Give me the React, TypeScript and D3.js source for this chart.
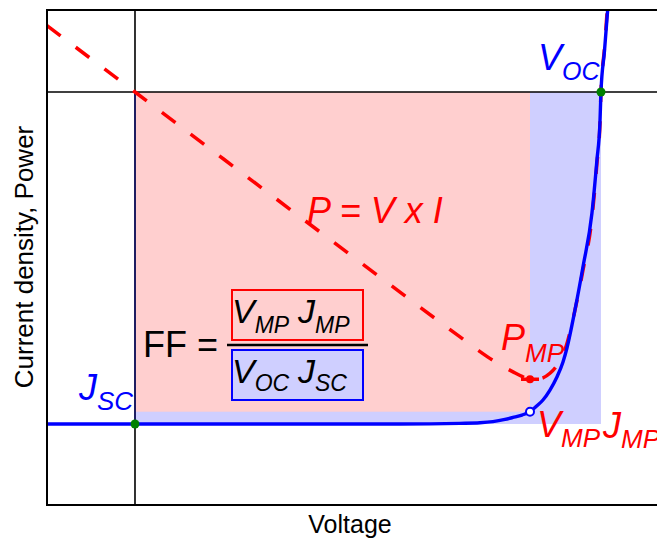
import React from 'react';
import * as d3 from 'd3';

// Solar cell J-V characteristic (voltage in V, current density in mA/cm²)
const voltage = [-0.1133, 0, 0.3412, 0.4185, 0.4442, 0.4609, 0.4764, 0.4867, 0.4983, 0.5086, 0.5176, 0.5253, 0.5343, 0.5433, 0.5511, 0.5562, 0.5665, 0.5768, 0.5884, 0.5948, 0.5987, 0.6, 0.6045, 0.6086];
const currentDensity = [30, 30, 30, 29.94, 29.89, 29.79, 29.59, 29.41, 29.19, 28.89, 28.35, 27.83, 26.93, 25.75, 24.39, 23.13, 19.7, 15.81, 10.93, 6.14, 2.71, 0, -3.7, -7.41];
// Output power density P = V x J (mW/cm²)
const power = [-3.399, 0, 10.236, 12.53, 13.277, 13.73, 14.097, 14.314, 14.545, 14.693, 14.674, 14.619, 14.389, 13.99, 13.441, 12.865, 11.16, 9.119, 6.431, 3.652, 1.622, 0, -2.237, -4.51];

const V_OC = 0.6;
const J_SC = 30;
const V_MP = 0.5086;
const J_MP = 28.89;
const P_MP = 14.693;

const W = 657;
const H = 542;
const FONT = "'Liberation Sans', Arial, Helvetica, sans-serif";

const plot = { left: 47, top: 10, right: 660, bottom: 505 };

const xScale = d3.scaleLinear().domain([-0.1133, 0.676]).range([plot.left, plot.right]);
const jScale = d3.scaleLinear().domain([-7.41, 37.32]).range([plot.top, plot.bottom]);
const pScale = d3.scaleLinear().domain([-4.194, 21.125]).range([plot.top, plot.bottom]);

const jvPoints: [number, number][] = voltage.map((v, i) => [v, currentDensity[i]]);
const pvPoints: [number, number][] = voltage.map((v, i) => [v, power[i]]);

const jvLine = d3
  .line<[number, number]>()
  .x((d) => xScale(d[0]))
  .y((d) => jScale(d[1]))
  .curve(d3.curveMonotoneX);

const pvLine = d3
  .line<[number, number]>()
  .x((d) => xScale(d[0]))
  .y((d) => pScale(d[1]))
  .curve(d3.curveMonotoneX);

type SubProps = {
  x: number;
  y: number;
  base: string;
  sub: string;
  size: number;
  subSize: number;
  drop: number;
  fill: string;
};

function SubLabel({ x, y, base, sub, size, subSize, drop, fill }: SubProps) {
  return (
    <text x={x} y={y} fontSize={size} fontStyle="italic" fill={fill} fontFamily={FONT}>
      {base}
      <tspan dy={drop} fontSize={subSize}>
        {sub}
      </tspan>
    </text>
  );
}

export default function App() {
  const x0 = xScale(0);
  const y0 = jScale(0);
  const xOc = xScale(V_OC);
  const ySc = jScale(J_SC);
  const xMp = xScale(V_MP);
  const yMp = jScale(J_MP);
  const yPmp = pScale(P_MP);

  const RED = '#ff0000';
  const BLUE = '#0000ff';

  return (
    <svg
      width={W}
      height={H}
      viewBox={`0 0 ${W} ${H}`}
      style={{ position: 'absolute', left: 0, top: 0, background: '#fff' }}
    >
      <defs>
        <clipPath id="plot-clip">
          <rect x={plot.left} y={plot.top} width={plot.right - plot.left} height={plot.bottom - plot.top} />
        </clipPath>
      </defs>
      <rect x={0} y={0} width={W} height={H} fill="#fff" />

      {/* maximum possible power V_OC x J_SC */}
      <rect x={x0} y={y0} width={xOc - x0} height={ySc - y0} fill="#cfcfff" />
      {/* actual maximum power V_MP x J_MP */}
      <rect x={x0} y={y0} width={xMp - x0} height={yMp - y0} fill="#ffcfcf" />

      {/* zero lines */}
      <line x1={plot.left} x2={plot.right} y1={y0} y2={y0} stroke="#000" strokeWidth={1.6} />
      <line x1={x0} x2={x0} y1={plot.top} y2={plot.bottom} stroke="#000" strokeWidth={1.6} />
      <line x1={x0} x2={x0} y1={y0} y2={ySc} stroke="#1a1a70" strokeWidth={1.6} />

      {/* fill factor formula */}
      <text x={143} y={357} fontSize={36} fill="#000" fontFamily={FONT}>
        FF =
      </text>
      <rect x={232} y={290} width={131} height={50} fill="none" stroke={RED} strokeWidth={2} />
      <rect x={232} y={350} width={131} height={50} fill="#cfcfff" stroke={BLUE} strokeWidth={2} />
      <line x1={227} x2={368} y1={345} y2={345} stroke="#000" strokeWidth={2.5} />
      <SubLabel x={232} y={323} base="V" sub="MP" size={34} subSize={23} drop={10} fill="#000" />
      <SubLabel x={298} y={323} base="J" sub="MP" size={34} subSize={23} drop={10} fill="#000" />
      <SubLabel x={232} y={383} base="V" sub="OC" size={34} subSize={23} drop={8} fill="#000" />
      <SubLabel x={298} y={383} base="J" sub="SC" size={34} subSize={23} drop={8} fill="#000" />

      <g clipPath="url(#plot-clip)">
        <path
          d={pvLine(pvPoints) ?? ''}
          fill="none"
          stroke={RED}
          strokeWidth={3.5}
          strokeDasharray="17 19"
        />
        <path d={jvLine(jvPoints) ?? ''} fill="none" stroke={BLUE} strokeWidth={3.4} />
      </g>

      {/* characteristic points */}
      <circle cx={x0} cy={ySc} r={4.5} fill="#008000" />
      <circle cx={xOc} cy={y0} r={4.5} fill="#008000" />
      <circle cx={xMp} cy={yMp} r={4} fill="#fff" stroke={BLUE} strokeWidth={2} />
      <line x1={xMp - 9} x2={xMp + 9} y1={yPmp} y2={yPmp} stroke={RED} strokeWidth={3.5} />
      <circle cx={xMp} cy={yPmp} r={4} fill={RED} />

      {/* labels */}
      <text x={307} y={223} fontSize={36} fontStyle="italic" fill={RED} fontFamily={FONT}>
        P = V x I
      </text>
      <SubLabel x={538} y={70} base="V" sub="OC" size={36} subSize={25} drop={10} fill={BLUE} />
      <SubLabel x={79} y={400} base="J" sub="SC" size={36} subSize={26} drop={10} fill={BLUE} />
      <SubLabel x={501} y={350} base="P" sub="MP" size={36} subSize={26} drop={12} fill={RED} />
      <SubLabel x={537} y={437} base="V" sub="MP" size={36} subSize={26} drop={10} fill={RED} />
      <SubLabel x={603} y={438} base="J" sub="MP" size={36} subSize={26} drop={10} fill={RED} />

      {/* frame */}
      <rect
        x={plot.left}
        y={plot.top}
        width={plot.right - plot.left}
        height={plot.bottom - plot.top}
        fill="none"
        stroke="#000"
        strokeWidth={2}
      />

      <text x={350} y={533} fontSize={25} textAnchor="middle" fill="#000" fontFamily={FONT}>
        Voltage
      </text>
      <text
        transform={`translate(33,257) rotate(-90)`}
        fontSize={26}
        textAnchor="middle"
        fill="#000"
        fontFamily={FONT}
      >
        Current density, Power
      </text>
    </svg>
  );
}
